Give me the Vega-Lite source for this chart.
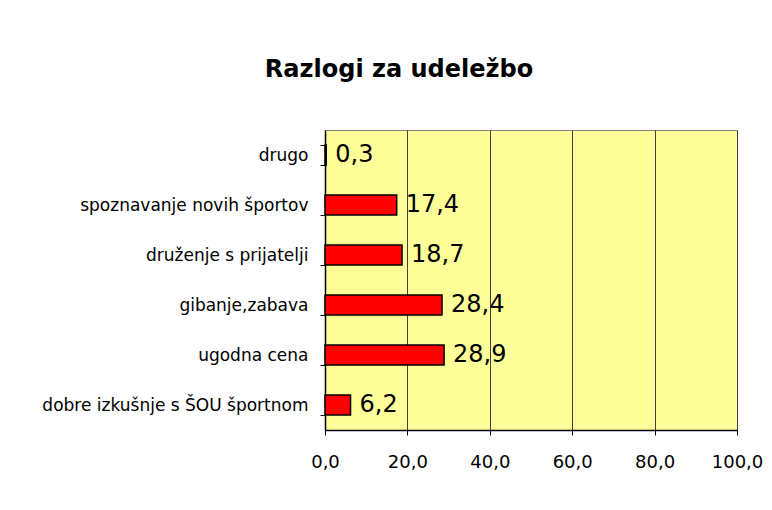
{
  "$schema": "https://vega.github.io/schema/vega-lite/v6.json",
  "width": 412,
  "height": 300,
  "autosize": {"type": "none"},
  "padding": {"left": 325, "top": 130, "right": 35, "bottom": 80},
  "background": "white",
  "config": {
    "font": "DejaVu Sans",
    "view": {"fill": "#FFFF99", "stroke": "#808080", "strokeWidth": 1},
    "locale": {"number": {"decimal": ",", "thousands": ".", "grouping": [3], "currency": ["", " €"]}}
  },
  "title": {
    "text": "Razlogi za udeležbo",
    "font": "DejaVu Sans",
    "fontSize": 24,
    "fontWeight": "bold",
    "color": "black",
    "anchor": "middle",
    "dx": -132,
    "offset": 39
  },
  "data": {
    "values": [
      {"razlog": "drugo", "odstotek": 0.3},
      {"razlog": "spoznavanje novih športov", "odstotek": 17.4},
      {"razlog": "druženje s prijatelji", "odstotek": 18.7},
      {"razlog": "gibanje,zabava", "odstotek": 28.4},
      {"razlog": "ugodna cena", "odstotek": 28.9},
      {"razlog": "dobre izkušnje s ŠOU športnom", "odstotek": 6.2}
    ]
  },
  "encoding": {
    "y": {
      "field": "razlog",
      "type": "nominal",
      "sort": null,
      "title": null,
      "scale": {"paddingInner": 0.6, "paddingOuter": 0.3},
      "axis": {
        "tickBand": "extent",
        "tickSize": 5,
        "tickColor": "black",
        "domainColor": "black",
        "domainWidth": 1.5,
        "labelFontSize": 17,
        "labelColor": "black",
        "labelPadding": 12,
        "labelLimit": 400
      }
    },
    "x": {
      "field": "odstotek",
      "type": "quantitative",
      "title": null,
      "scale": {"domain": [0, 100], "nice": false},
      "axis": {
        "values": [0, 20, 40, 60, 80, 100],
        "format": ".1f",
        "grid": true,
        "gridColor": "#404040",
        "gridWidth": 1,
        "tickSize": 5,
        "tickColor": "black",
        "domainColor": "black",
        "domainWidth": 1.5,
        "labelFontSize": 18,
        "labelColor": "black",
        "labelPadding": 18,
        "labelFlush": false
      }
    }
  },
  "layer": [
    {
      "mark": {"type": "bar", "color": "#FF0000", "stroke": "black", "strokeWidth": 1.5}
    },
    {
      "mark": {"type": "text", "align": "left", "baseline": "middle", "dx": 9, "fontSize": 24, "color": "black"},
      "encoding": {
        "text": {"field": "odstotek", "type": "quantitative", "format": ".1f"}
      }
    }
  ]
}
